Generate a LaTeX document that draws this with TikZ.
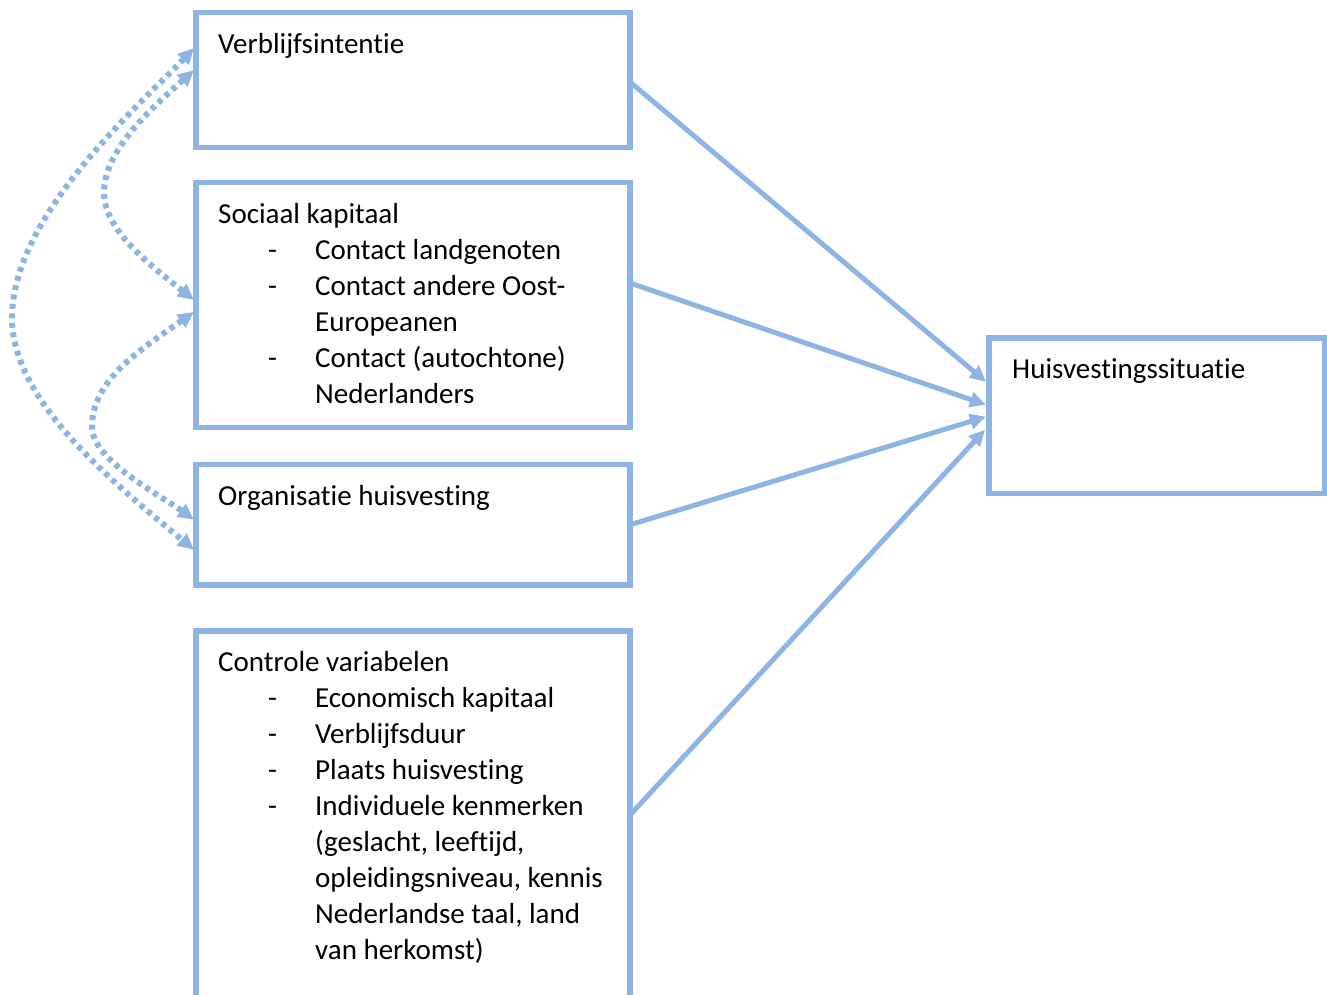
\documentclass[tikz,border=0pt]{standalone}
\usepackage{fontspec}
\setmainfont[RawFeature={-liga;-clig;-dlig;-calt;-ccmp}]{Carlito}
\usetikzlibrary{arrows.meta}
\definecolor{lijnblauw}{RGB}{141,180,227}
\newcommand{\streep}{\hspace*{50pt}-}

\begin{document}
\begin{tikzpicture}[x=1pt, y=-1pt,
 font=\fontsize{29}{36}\selectfont,
 kader/.style={draw=lijnblauw, line width=5.5pt, rectangle, inner sep=0pt, outer sep=0pt, anchor=north west},
 tekst/.style={anchor=base west, inner sep=0pt, align=left},
 pijl/.style={draw=lijnblauw, line width=5pt, -{Triangle[length=16pt,width=15pt]}},
 stip/.style={draw=lijnblauw, line width=6pt, dash pattern=on 5pt off 4.5pt,
   {Triangle[length=16pt,width=15pt]}-{Triangle[length=16pt,width=15pt]}}]
\useasboundingbox (0,0) rectangle (1327,994);

% kaders
\node[kader, minimum width=434pt, minimum height=135pt] (intentie) at (196,12.5) {};
\node[kader, minimum width=434pt, minimum height=245pt] (kapitaal) at (196,182.5) {};
\node[kader, minimum width=434pt, minimum height=120.5pt] (organisatie) at (196,464.5) {};
\node[kader, minimum width=434pt, minimum height=368pt] (controle) at (196,631) {};
\node[kader, minimum width=336pt, minimum height=155.5pt] (situatie) at (989,338) {};

% teksten
\node[tekst] (t-intentie) at ([xshift=22pt,yshift=-40.5pt]intentie.north west) {Verblijfsintentie};
\node[tekst] (t-kapitaal) at ([xshift=22pt,yshift=-40.5pt]kapitaal.north west) {%
 \begin{tabular}[t]{@{}p{97pt}@{}l@{}}
 \multicolumn{2}{@{}l@{}}{Sociaal kapitaal}\\
 \streep & Contact landgenoten\\
 \streep & Contact andere Oost-\\
  & Europeanen\\
 \streep & Contact (autochtone)\\
  & Nederlanders
 \end{tabular}};
\node[tekst] (t-organisatie) at ([xshift=22pt,yshift=-40.5pt]organisatie.north west) {Organisatie huisvesting};
\node[tekst] (t-controle) at ([xshift=22pt,yshift=-40.5pt]controle.north west) {%
 \begin{tabular}[t]{@{}p{97pt}@{}l@{}}
 \multicolumn{2}{@{}l@{}}{Controle variabelen}\\
 \streep & Economisch kapitaal\\
 \streep & Verblijfsduur\\
 \streep & Plaats huisvesting\\
 \streep & Individuele kenmerken\\
  & (geslacht, leeftijd,\\
  & opleidingsniveau, kennis\\
  & Nederlandse taal, land\\
  & van herkomst)
 \end{tabular}};
\node[tekst] (t-situatie) at ([xshift=23pt,yshift=-40.5pt]situatie.north west) {Huisvestingssituatie};

% pijlen naar huisvestingssituatie
\draw[pijl] ([yshift=-2pt]intentie.east) -- ([xshift=-3pt,yshift=34pt]situatie.west);
\draw[pijl] ([yshift=22pt]kapitaal.east) -- ([xshift=-3pt,yshift=11pt]situatie.west);
\draw[pijl] (organisatie.east) -- ([xshift=-3pt,yshift=-1pt]situatie.west);
\draw[pijl] (controle.east) -- ([xshift=-4pt,yshift=-14pt]situatie.west);

% gestippelde samenhang
\draw[stip] ([xshift=-2pt,yshift=32pt]intentie.west) .. controls (140,105) and (12,215) .. (12,318)
  .. controls (12,400) and (110,480) .. ([xshift=-2pt,yshift=-25pt]organisatie.west);
\draw[stip] ([xshift=-2pt,yshift=10pt]intentie.west) .. controls (150,110) and (104,150) .. (104,193)
  .. controls (104,230) and (150,265) .. ([xshift=-2pt,yshift=5pt]kapitaal.west);
\draw[stip] ([xshift=-2pt,yshift=-7pt]kapitaal.west) .. controls (140,350) and (92,380) .. (92,427)
  .. controls (92,460) and (160,495) .. ([xshift=-2pt,yshift=5pt]organisatie.west);
\end{tikzpicture}
\end{document}
